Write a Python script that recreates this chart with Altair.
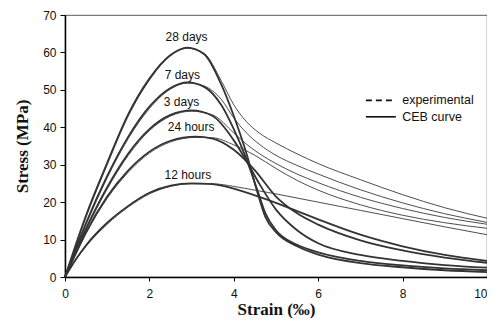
import altair as alt
import pandas as pd

# ---- data ----
curves = ["28 days", "7 days", "3 days", "24 hours", "12 hours"]

# CEB curves (thick)
ceb_strain = {
    "28 days": [0, 0.25, 0.5, 1.0, 1.5, 2.0, 2.5, 2.9, 3.3, 3.7, 4.0, 4.3, 4.55, 4.75, 5.0, 5.5, 6.0, 7, 8, 9, 10],
    "7 days": [0, 0.25, 0.5, 1.0, 1.5, 2.0, 2.5, 2.9, 3.3, 3.7, 4.0, 4.3, 4.55, 4.75, 5.0, 5.5, 6.0, 7, 8, 9, 10],
    "3 days": [0, 0.25, 0.5, 1.0, 1.5, 2.0, 2.5, 3.0, 3.5, 4.0, 4.3, 4.6, 5.0, 5.5, 6.0, 7, 8, 9, 10],
    "24 hours": [0, 0.25, 0.5, 1.0, 1.5, 2.0, 2.5, 3.1, 3.5, 4.0, 4.5, 5.0, 5.5, 6.0, 7, 8, 9, 10],
    "12 hours": [0, 0.25, 0.5, 1.0, 1.5, 2.0, 2.5, 3.0, 3.5, 4.0, 4.5, 5.0, 5.5, 6.0, 7, 8, 9, 10],
}
ceb_stress = {
    "28 days": [0, 8.5, 16.5, 30.5, 43.5, 53, 59.3, 61.3, 59.5, 51.5, 43, 33, 23, 16, 12, 8.2, 6.0, 3.7, 2.6, 1.8, 1.3],
    "7 days": [0, 7.5, 14.5, 27, 37.5, 45.5, 50.5, 52, 50.8, 46, 39.5, 31.5, 23.5, 17, 12.5, 8.6, 6.6, 4.3, 3.1, 2.3, 1.8],
    "3 days": [0, 6.8, 13, 24, 33, 39.5, 43.3, 44.5, 43, 36.5, 31, 25, 18, 12.5, 9, 5.9, 4.3, 3.2, 2.5],
    "24 hours": [0, 6.2, 12, 21.5, 28.5, 33.5, 36.4, 37.5, 37, 34, 28.5, 21.5, 17, 14, 9.8, 7.1, 5.2, 3.8],
    "12 hours": [0, 4.6, 8.5, 14.5, 19, 22.5, 24.4, 25, 24.8, 23.6, 21.8, 19.8, 17.6, 15.4, 11.3, 8.2, 5.9, 4.3],
}

# experimental curves (thin)
exp_strain = {
    "28 days": [0, 0.25, 0.5, 1.0, 1.5, 2.0, 2.5, 2.9, 3.3, 3.7, 4.0, 4.3, 4.6, 5.0, 5.5, 6.0, 7, 8, 9, 10],
    "7 days": [0, 0.25, 0.5, 1.0, 1.5, 2.0, 2.5, 2.9, 3.3, 3.7, 4.0, 4.3, 4.6, 5.0, 5.5, 6.0, 7, 8, 9, 10],
    "3 days": [0, 0.25, 0.5, 1.0, 1.5, 2.0, 2.5, 3.0, 3.5, 4.0, 4.3, 4.6, 5.0, 5.5, 6.0, 7, 8, 9, 10],
    "24 hours": [0, 0.25, 0.5, 1.0, 1.5, 2.0, 2.5, 3.1, 3.5, 4.0, 4.5, 5.0, 5.5, 6.0, 7, 8, 9, 10],
    "12 hours": [0, 0.25, 0.5, 1.0, 1.5, 2.0, 2.5, 3.0, 3.5, 4.0, 4.5, 5.0, 5.5, 6.0, 7, 8, 9, 10],
}
exp_stress = {
    "28 days": [0, 8.2, 16.0, 30.0, 43.0, 52.6, 59.1, 61.1, 59.7, 52.5, 46, 41.5, 38.5, 35.8, 32.9, 30.3, 26, 22, 18.5, 15.7],
    "7 days": [0, 7.2, 14.0, 26.5, 37.0, 45.0, 50.2, 51.8, 51, 47.5, 42.5, 38.5, 35.5, 32.5, 29.8, 27.5, 23.3, 19.8, 16.9, 14.6],
    "3 days": [0, 6.5, 12.6, 23.5, 32.5, 39.1, 43.0, 44.3, 43.3, 38.5, 35.5, 33, 30.3, 27.5, 25.2, 21.3, 18.3, 15.9, 14.1],
    "24 hours": [0, 5.9, 11.6, 21.0, 28.0, 33.1, 36.1, 37.3, 37.2, 35.3, 32.5, 29, 25.8, 23.2, 19.3, 16.5, 14.5, 13.0],
    "12 hours": [0, 4.4, 8.2, 14.1, 18.7, 22.2, 24.2, 24.9, 24.9, 24.2, 23.2, 22.2, 21.1, 20.0, 17.8, 15.6, 13.4, 11.3],
}

label_text = ["28 days", "7 days", "3 days", "24 hours", "12 hours"]
label_strain = [2.88, 2.78, 2.76, 2.99, 2.91]
label_stress = [64.2, 53.9, 46.7, 40.0, 27.3]

legend_names = ["experimental", "CEB curve"]
legend_y = [47.2, 42.8]

y_ticks = [0, 10, 20, 30, 40, 50, 60, 70]
x_ticks = [0, 2, 4, 6, 8, 10]

# ---- tables ----
rows = []
for c in curves:
    for s, v in zip(ceb_strain[c], ceb_stress[c]):
        rows.append({"strain": s, "stress": v, "curve": c + " CEB", "kind": "CEB curve"})
    for s, v in zip(exp_strain[c], exp_stress[c]):
        rows.append({"strain": s, "stress": v, "curve": c + " exp", "kind": "experimental"})
df = pd.DataFrame(rows)
labels = pd.DataFrame({"strain": label_strain, "stress": label_stress, "text": label_text})
leg = pd.DataFrame({"x1": [7.13, 7.13], "x2": [7.84, 7.84], "y": legend_y,
                    "tx": [7.99, 7.99], "name": legend_names,
                    "dash": ["d", "s"]})

xscale = alt.Scale(domain=[0, 10], nice=False, zero=False)
yscale = alt.Scale(domain=[0, 70], nice=False)

xaxis = alt.Axis(values=x_ticks, title="Strain (‰)", grid=False, tickSize=4,
                 labelPadding=7, titleY=37, titleBaseline="alphabetic",
                 labelOverlap=False, labelFlush=False,
                 labelAlign={"condition": {"test": "datum.value == 10", "value": "right"},
                             "value": "center"})
yaxis = alt.Axis(values=y_ticks, title="Stress (MPa)", grid=False, tickSize=5,
                 labelPadding=4, titleX=-38, titleBaseline="alphabetic",
                 labelOverlap=False, labelFlush=False)


def X(field):
    return alt.X(field, type="quantitative", scale=xscale, axis=xaxis)


def Y(field):
    return alt.Y(field, type="quantitative", scale=yscale, axis=yaxis)


base = alt.Chart(df)
thin = base.transform_filter(alt.datum.kind == "experimental").mark_line(
    color="#3a3a3a", strokeWidth=0.9, interpolate="monotone"
).encode(x=X("strain"), y=Y("stress"), detail="curve:N")
thick = base.transform_filter(alt.datum.kind == "CEB curve").mark_line(
    color="#333333", strokeWidth=1.8, interpolate="monotone"
).encode(x=X("strain"), y=Y("stress"), detail="curve:N")
lab = alt.Chart(labels).mark_text(font="Liberation Sans", fontSize=12, color="#111",
                                  align="center", baseline="middle").encode(
    x=X("strain"), y=Y("stress"), text="text:N"
)
leg_dash = alt.Chart(leg).transform_filter(alt.datum.dash == "d").mark_rule(
    color="#111", strokeWidth=1.6, strokeDash=[6, 4]
).encode(x=X("x1"), x2="x2:Q", y=Y("y"))
leg_solid = alt.Chart(leg).transform_filter(alt.datum.dash == "s").mark_rule(
    color="#111", strokeWidth=1.6
).encode(x=X("x1"), x2="x2:Q", y=Y("y"))
leg_text = alt.Chart(leg).mark_text(font="Liberation Sans", fontSize=12.5, color="#111",
                                    align="left", baseline="middle").encode(
    x=X("tx"), y=Y("y"), text="name:N"
)

chart = alt.layer(thin, thick, lab, leg_dash, leg_solid, leg_text).properties(
    width=422, height=262,
    autosize="none",
    padding={"left": 57, "top": 7, "right": 0, "bottom": 41},
).configure_view(
    stroke="#7a7a7a", strokeWidth=1.2
).configure_axis(
    domainColor="#000", domainWidth=1.5, tickColor="#000", tickWidth=1,
    labelFont="Liberation Sans", labelFontSize=12, labelColor="#111",
    titleFont="Liberation Serif", titleFontSize=17, titleFontWeight="bold", titleColor="#111",
)

chart.save("out.html", embed_options={"renderer": "svg", "actions": False})
